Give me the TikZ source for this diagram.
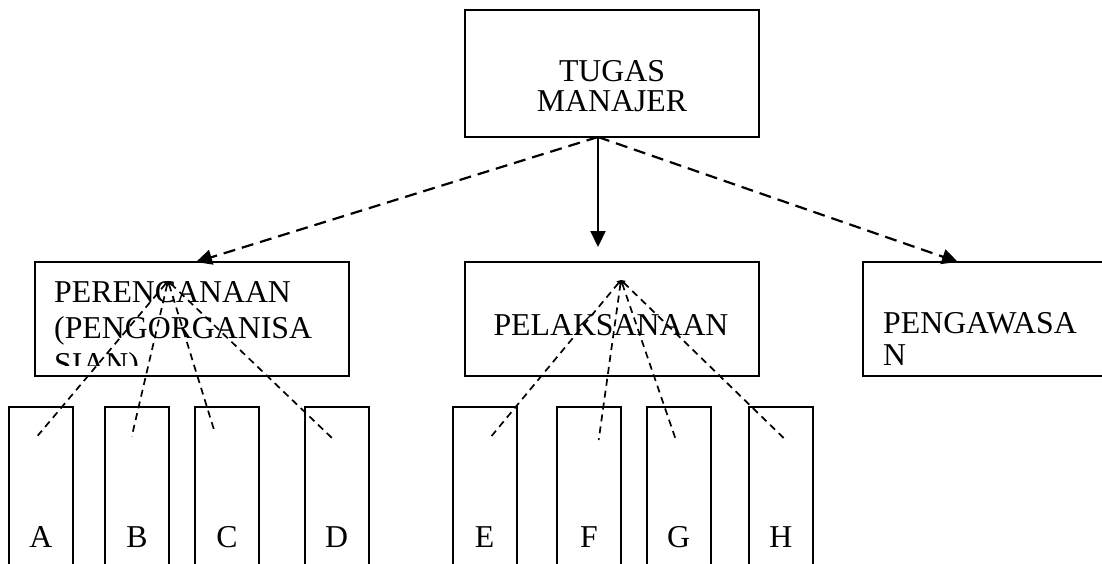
\documentclass[tikz,border=0pt]{standalone}
\usepackage{fontspec}
\setmainfont{Liberation Serif}
\usetikzlibrary{arrows.meta}
\begin{document}
\begin{tikzpicture}[x=1pt,y=-1pt,
  box/.style={draw, line width=2.2pt, rectangle, inner sep=0pt},
  lbl/.style={font=\fontsize{31.8}{36}\selectfont, inner sep=0pt},
  mainarrow/.style={line width=2.2pt, -{Triangle[length=16pt,width=15pt]}},
  dasharrow/.style={line width=2.2pt, dash pattern=on 12pt off 7pt,
    -{Triangle[length=16pt,width=15pt]}},
  fan/.style={line width=1.7pt, dash pattern=on 7pt off 5pt,
    {Triangle[length=4pt,width=5pt]}-},
]
\useasboundingbox (0,0) rectangle (1102,564);
\clip (0,0) rectangle (1102,564);

% top-level box
\node[box, minimum width=294pt, minimum height=127pt] (tugas) at (612,73.5) {};
\node[lbl, anchor=base] (tugas1) at (612,82) {TUGAS};
\node[lbl, anchor=base] (tugas2) at (612,112) {MANAJER};

% second level
\node[box, minimum width=314pt, minimum height=114pt] (peren) at (192,319) {};
\node[box, minimum width=294pt, minimum height=114pt] (pelak) at (612,319) {};
\node[box, minimum width=252pt, minimum height=114pt] (penga) at (989,319) {};

\begin{scope}
  \clip (37,263) rectangle (347,365);
  \node[lbl, anchor=base west] (peren1) at (54,302.3) {PERENCANAAN};
  \node[lbl, anchor=base west] (peren2) at (54,338.5) {(PENGORGANISA};
  \node[lbl, anchor=base west] (peren3) at (54,374.5) {SIAN)};
\end{scope}
\node[lbl, anchor=base] (pelak1) at (611,335) {PELAKSANAAN};
\node[lbl, anchor=base west] (penga1) at (883,333.3) {PENGAWASA};
\node[lbl, anchor=base west] (penga2) at (883,365) {N};

% third level: open-bottomed boxes
\foreach \n/\x in {A/40.8, B/137, C/227, D/336.7, E/484.7, F/589, G/678.7, H/780.9} {
  \node[box, minimum width=64pt, minimum height=173pt] (box\n) at (\x,493.5) {};
  \node[lbl, anchor=base] (lbl\n) at (\x,547.7) {\n};
}

% connectors from the top box
\coordinate (tm) at (598,137);
\coordinate (tmend) at (598,247);
\coordinate (perenin) at (196,262);
\coordinate (pengain) at (958,262);
\draw[mainarrow] (tm) -- (tmend);
\draw[dasharrow] (tm) -- (perenin);
\draw[dasharrow] (tm) -- (pengain);

% fan-out lines
\coordinate (ph) at (168,281);
\coordinate (pA) at (37.7,435.7);
\coordinate (pB) at (131.7,436.7);
\coordinate (pC) at (215,433);
\coordinate (pD) at (333.3,439.3);
\coordinate (lh) at (621,280);
\coordinate (pE) at (491,436.7);
\coordinate (pF) at (598.7,440);
\coordinate (pG) at (675.7,439.3);
\coordinate (pH) at (785,439.3);
\foreach \e in {pA,pB,pC,pD} \draw[fan] (ph) -- (\e);
\foreach \e in {pE,pF,pG,pH} \draw[fan] (lh) -- (\e);
\end{tikzpicture}
\end{document}
